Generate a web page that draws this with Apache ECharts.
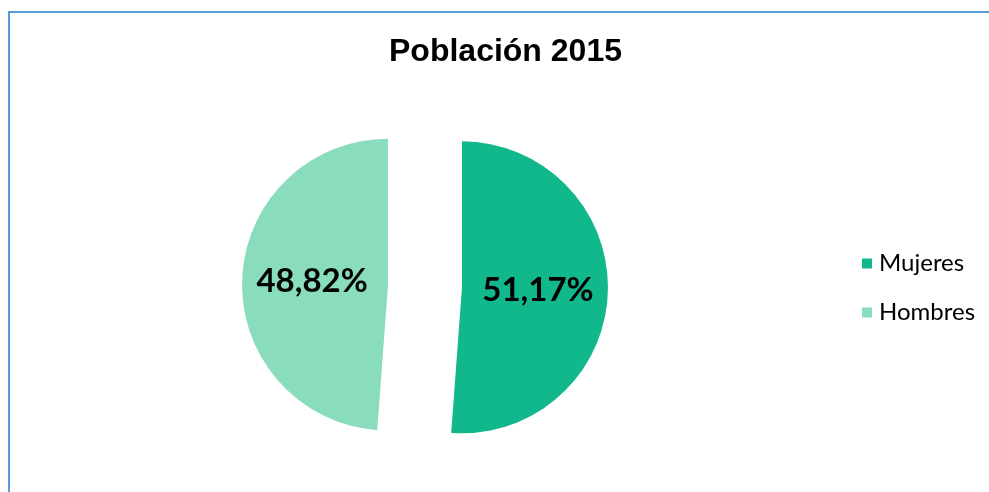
<!DOCTYPE html>
<html>
<head>
<meta charset="utf-8">
<script src="https://cdn.jsdelivr.net/npm/echarts@6/dist/echarts.min.js"></script>
<style>
html,body{margin:0;padding:0;background:#fff;}
#chart{width:989px;height:492px;}
</style>
</head>
<body>
<div id="chart"></div>
<script>
const titleText = 'Población 2015';
const categories = ['Mujeres', 'Hombres'];
const values = [51.17, 48.82];
const colors = ['#10b88b', '#89dcbc'];

const chart = echarts.init(document.getElementById('chart'), null, {renderer: 'canvas'});
const option = {
  animation: false,
  backgroundColor: '#ffffff',
  graphic: [{
    type: 'rect',
    shape: {x: 9, y: 12, width: 1100, height: 600},
    style: {fill: 'none', stroke: '#5b9bd5', lineWidth: 2},
    silent: true, z: 0
  }],
  title: {
    text: titleText,
    left: 384,
    top: 31,
    textStyle: {fontFamily: 'Liberation Sans', fontWeight: 'bold', fontSize: 32, color: '#000'}
  },
  legend: {
    orient: 'vertical',
    left: 857,
    top: 245,
    icon: 'rect',
    itemWidth: 10,
    itemHeight: 10,
    itemGap: 22,
    selectedMode: false,
    textStyle: {fontFamily: 'Lato', fontSize: 24, color: '#000', lineHeight: 27, padding: [0, 0, 0, 2]},
    data: categories
  },
  series: [{
    type: 'pie',
    center: [425, 286],
    radius: [0, 146],
    startAngle: 90,
    clockwise: true,
    selectedMode: 'multiple',
    selectedOffset: 37,
    avoidLabelOverlap: false,
    emphasis: {disabled: true},
    label: {
      show: true,
      position: 'inside',
      fontFamily: 'Lato',
      fontWeight: 'bold',
      fontSize: 33,
      color: '#000',
      formatter: function (p) { return p.value.toFixed(2).replace('.', ',') + '%'; }
    },
    labelLine: {show: false},
    data: categories.map(function (c, i) {
      return {name: c, value: values[i], selected: true, itemStyle: {color: colors[i]}};
    })
  }]
};
chart.setOption(option);
</script>
</body>
</html>
